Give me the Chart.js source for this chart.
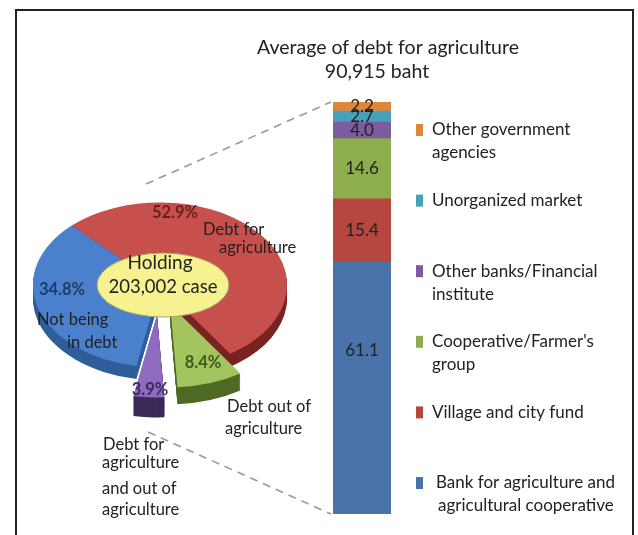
<!DOCTYPE html>
<html>
<head>
<meta charset="utf-8">
<script src="https://cdn.jsdelivr.net/npm/chart.js@4.4.0/dist/chart.umd.min.js"></script>
<style>
    html, body { margin: 0; padding: 0; background: #fff; overflow: hidden; }
    #wrap { position: relative; width: 638px; height: 535px; }
    #frame { position: absolute; left: 15px; top: 9px; width: 619px; height: 600px; border: 2px solid #222; box-sizing: border-box; }
    canvas { position: absolute; left: 0; top: 0; }
</style>
</head>
<body>
<div id="wrap">
    <div id="frame"></div>
    <canvas id="bar" width="638" height="535"></canvas>
    <canvas id="pie" width="638" height="535"></canvas>
</div>
<script>
// Holdings by debt status (%)
const holdLabels = [
    ['Debt for', 'agriculture'],
    ['Debt out of', 'agriculture'],
    ['Debt for', 'agriculture', 'and out of', 'agriculture'],
    ['Not being', 'in debt']
];
const holdValues = [52.9, 8.4, 3.9, 34.8];
const holdingCases = 203002;

// Sources of debt for agriculture (%), stacked from the bottom
const sourceLabels = [
    ['Bank for agriculture and', 'agricultural cooperative'],
    ['Village and city fund'],
    ['Cooperative/Farmer\'s', 'group'],
    ['Other banks/Financial', 'institute'],
    ['Unorganized market'],
    ['Other government', 'agencies']
];
const sourceValues = [61.1, 15.4, 14.6, 4.0, 2.7, 2.2];
const avgDebt = 90915;

const FONT = 'Lato, "Noto Sans", sans-serif';
const INK = '#222';

// Bar chart: labels in the bar, title and legend
const barDeco = {
    id: 'barDeco',
    afterDatasetsDraw(chart) {
        const ctx = chart.ctx;
        ctx.save();
        ctx.fillStyle = INK;
        ctx.textAlign = 'center';
        ctx.textBaseline = 'middle';
        ctx.font = '17px ' + FONT;
        chart.data.datasets.forEach((ds, i) => {
            const el = chart.getDatasetMeta(i).data[0];
            const h = el.base - el.y;
            ctx.fillText(ds.data[0].toFixed(1), el.x, el.y + Math.min(h / 2, 88));
        });
        ctx.restore();
    },
    afterDraw(chart) {
        const ctx = chart.ctx;
        ctx.save();
        ctx.fillStyle = INK;
        ctx.textBaseline = 'middle';
        ctx.textAlign = 'center';
        ctx.font = '19.5px ' + FONT;
        ctx.fillText('Average of debt for agriculture', 388, 48);
        ctx.fillText(avgDebt.toLocaleString('en-US') + ' baht', 377, 72);

        // legend, top item = last dataset
        ctx.font = '17px ' + FONT;
        ctx.textAlign = 'left';
        const n = chart.data.datasets.length;
        for (let k = 0; k < n; k++) {
            const ds = chart.data.datasets[n - 1 - k];
            const y = 130 + k * 70.6;
            const tx = k === n - 1 ? 436 : 432;
            ctx.fillStyle = ds.backgroundColor;
            ctx.fillRect(416, y - 6, 7, 12);
            ctx.fillStyle = INK;
            ds.label.forEach((line, j) => ctx.fillText(line, tx + (k === n - 1 && j ? 2 : 0), y + j * 23));
        }
        ctx.restore();
    }
};

const barColors = ['#4A73AA', '#B5473F', '#8EAD4D', '#7B5C9E', '#46A1BA', '#E0863B'];

const barChart = new Chart(document.getElementById('bar'), {
    type: 'bar',
    data: {
        labels: ['Debt for agriculture'],
        datasets: sourceValues.map((v, i) => ({
            label: sourceLabels[i],
            data: [v],
            backgroundColor: barColors[i],
            borderWidth: 0,
            barPercentage: 1,
            categoryPercentage: 1
        }))
    },
    options: {
        responsive: false,
        animation: false,
        devicePixelRatio: 1,
        layout: { padding: { left: 333, right: 247, top: 102, bottom: 21 } },
        scales: {
            x: { stacked: true, display: false },
            y: { stacked: true, display: false, min: 0, max: 100 }
        },
        plugins: { legend: { display: false }, tooltip: { enabled: false } }
    },
    plugins: [barDeco]
});

// Pie drawn as a tilted disc with a side wall and two pulled-out slices
const pie3d = {
    id: 'pie3d',
    beforeDatasetsDraw(chart, args, o) {
        const ctx = chart.ctx;
        const arcs = chart.getDatasetMeta(0).data;
        const cx = arcs[0].x, cy = arcs[0].y;
        const place = (el, i, dy) => {
            const mid = (el.startAngle + el.endAngle) / 2;
            ctx.translate(0, dy);
            ctx.translate(cx, cy);
            ctx.scale(1, o.squash);
            ctx.translate(-cx, -cy);
            ctx.translate(Math.cos(mid) * o.explode[i], Math.sin(mid) * o.explode[i]);
        };
        const side = i => {
            const el = arcs[i];
            const p = Object.create(el);
            p.options = Object.assign({}, el.options, { backgroundColor: o.sides[i], borderColor: o.sides[i], borderWidth: 0 });
            for (let d = o.depth[i]; d > 0; d--) {
                ctx.save();
                place(el, i, d);
                p.draw(ctx);
                ctx.restore();
            }
        };
        const top = i => {
            ctx.save();
            place(arcs[i], i, 0);
            arcs[i].draw(ctx);
            ctx.restore();
        };
        const idx = arcs.map((el, i) => i);
        const flat = idx.filter(i => !o.explode[i]);
        const out = idx.filter(i => o.explode[i]);
        flat.forEach(side);
        flat.forEach(top);
        out.forEach(i => { side(i); top(i); });
        return false;
    },
    afterDraw(chart, args, o) {
        const ctx = chart.ctx;
        const arc0 = chart.getDatasetMeta(0).data[0];
        const cx = arc0.x, cy = arc0.y;
        ctx.save();

        // connector lines to the bar
        const bar0 = barChart.getDatasetMeta(0).data[0];
        const barTop = barChart.getDatasetMeta(barChart.data.datasets.length - 1).data[0];
        const left = bar0.x - bar0.width / 2;
        ctx.strokeStyle = '#999';
        ctx.lineWidth = 1.6;
        ctx.setLineDash([8, 6]);
        ctx.beginPath();
        ctx.moveTo(cx - 14, cy - 101);
        ctx.lineTo(left - 2, barTop.y);
        ctx.moveTo(cx - 12, cy + 147);
        ctx.lineTo(left - 2, bar0.base);
        ctx.stroke();
        ctx.setLineDash([]);

        // centre label
        ctx.beginPath();
        ctx.ellipse(cx + 3, cy, 66, 32, 0, 0, Math.PI * 2);
        ctx.fillStyle = '#F7F290';
        ctx.fill();
        ctx.strokeStyle = '#A8A36A';
        ctx.lineWidth = 1;
        ctx.stroke();
        ctx.fillStyle = INK;
        ctx.textAlign = 'center';
        ctx.textBaseline = 'middle';
        ctx.font = '19px ' + FONT;
        ctx.fillText('Holding', cx, cy - 22);
        ctx.font = '18.5px ' + FONT;
        ctx.fillText(holdingCases.toLocaleString('en-US') + ' case', cx + 3, cy + 2);

        // percentages
        ctx.font = 'bold 16.5px ' + FONT;
        holdValues.forEach((v, i) => {
            ctx.fillStyle = o.pctColors[i];
            ctx.fillText(v.toFixed(1) + '%', cx + o.pctAt[i][0], cy + o.pctAt[i][1]);
        });

        // category names
        ctx.font = '16.5px ' + FONT;
        ctx.fillStyle = INK;
        ctx.textAlign = 'left';
        holdLabels.forEach((lines, i) => {
            lines.forEach((line, j) => {
                const p = o.nameAt[i][j];
                ctx.fillText(line, cx + p[0], cy + p[1]);
            });
        });
        ctx.restore();
    }
};

new Chart(document.getElementById('pie'), {
    type: 'pie',
    data: {
        labels: holdLabels.map(l => l.join(' ')),
        datasets: [{
            data: holdValues,
            backgroundColor: ['#C8504C', '#A3C45F', '#8E6BC0', '#4A80CC'],
            borderWidth: 0
        }]
    },
    options: {
        responsive: false,
        animation: false,
        devicePixelRatio: 1,
        rotation: -44,
        radius: 127,
        layout: { padding: { left: 20, right: 338, top: 135, bottom: 100 } },
        plugins: {
            legend: { display: false },
            tooltip: { enabled: false },
            pie3d: {
                squash: 0.65,
                explode: [0, 32, 46, 0],
                depth: [13, 17, 20, 13],
                sides: ['#7A2323', '#4F6A25', '#3A2A58', '#2F5E9A'],
                pctColors: ['#6a1f1f', '#3f5a1c', '#3a2a62', '#1f3b66'],
                pctAt: [[15, -72], [43, 78], [-10, 105], [-98, 5]],
                nameAt: [
                    [[43, -55], [59, -37]],
                    [[67, 122], [65, 144]],
                    [[-57, 160], [-58, 178], [-58, 204], [-58, 225]],
                    [[-123, 35], [-93, 58]]
                ]
            }
        }
    },
    plugins: [pie3d]
});
</script>
</body>
</html>
